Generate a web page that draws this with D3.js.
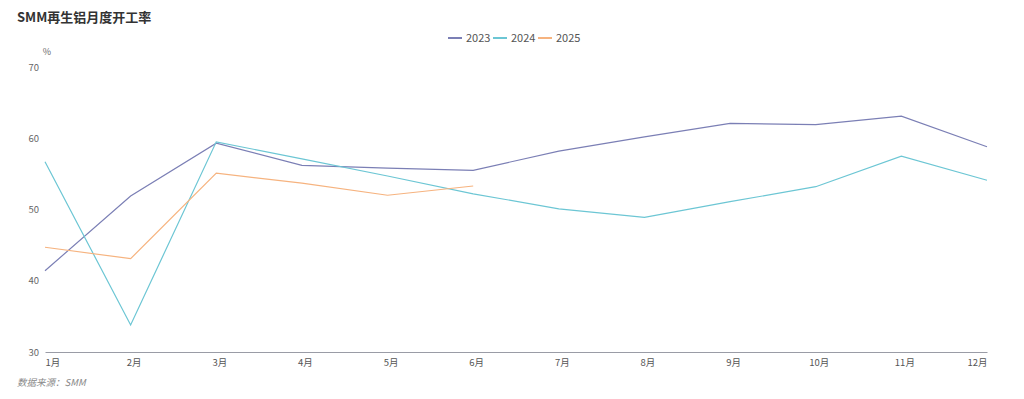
<!DOCTYPE html>
<html>
<head>
<meta charset="utf-8">
<script src="https://cdn.jsdelivr.net/npm/d3@7"></script>
<style>
  body { margin: 0; background: #fff; }
  svg text { font-family: "Noto Sans CJK SC", "Noto Sans", sans-serif; }
</style>
</head>
<body>
<svg id="chart"></svg>
<script>
// data
var months = ["1月", "2月", "3月", "4月", "5月", "6月", "7月", "8月", "9月", "10月", "11月", "12月"];
var yTicks = [30, 40, 50, 60, 70];
var seriesNames = ["2023", "2024", "2025"];
var v2023 = [41.4, 51.9, 59.3, 56.2, 55.8, 55.5, 58.2, 60.2, 62.1, 61.9, 63.1, 58.8];
var v2024 = [56.7, 33.8, 59.5, 57.1, 54.7, 52.2, 50.1, 48.9, 51.1, 53.2, 57.5, 54.1];
var v2025 = [44.7, 43.1, 55.1, 53.7, 52.0, 53.3];

var colors = ["#7b7fb5", "#6cc6d4", "#f6b37f"];
var series = [v2023, v2024, v2025];

var W = 1024, H = 399;
var margin = { top: 67, right: 37, bottom: 47, left: 45 };

var svg = d3.select("svg#chart").attr("width", W).attr("height", H);

var x = d3.scalePoint().domain(months).range([margin.left, W - margin.right]);
var y = d3.scaleLinear().domain([30, 70]).range([H - margin.bottom, margin.top]);

// title
svg.append("text")
  .attr("x", 17).attr("y", 22)
  .attr("font-size", 13).attr("font-weight", "bold")
  .attr("fill", "#333")
  .text("SMM再生铝月度开工率");

// legend
var legend = svg.append("g").attr("transform", "translate(448,38)");
var lx = 0;
seriesNames.forEach(function (name, i) {
  var g = legend.append("g").attr("transform", "translate(" + lx + ",0)");
  g.append("line").attr("x1", 0).attr("x2", 14).attr("y1", 0).attr("y2", 0)
    .attr("stroke", colors[i]).attr("stroke-width", 2);
  g.append("text").attr("x", 18).attr("y", 4)
    .attr("font-size", 11).attr("fill", "#555").text(name);
  lx += 45;
});

// y unit
svg.append("text")
  .attr("x", 47).attr("y", 55)
  .attr("font-size", 9).attr("fill", "#666").attr("text-anchor", "middle")
  .text("%");

// y axis labels
svg.append("g").selectAll("text").data(yTicks).enter().append("text")
  .attr("x", 39).attr("y", function (d) { return y(d) + 3.5; })
  .attr("text-anchor", "end")
  .attr("font-size", 9.5).attr("fill", "#666")
  .text(function (d) { return d; });

// x axis
var xAxis = d3.axisBottom(x).tickSize(0).tickPadding(7);
var gx = svg.append("g")
  .attr("transform", "translate(0," + y(30) + ")")
  .call(xAxis);
gx.select(".domain").attr("stroke", "#9a9ca6").attr("stroke-width", 1);
gx.selectAll("text")
  .attr("font-size", 9.5).attr("fill", "#555")
  .attr("font-family", "\"Noto Sans CJK SC\", sans-serif")
  .attr("text-anchor", function (d, i) {
    if (i === 0) return "start";
    if (i === months.length - 1) return "end";
    return "middle";
  })
  .attr("dx", function (d, i) { return (i > 0 && i < months.length - 1) ? 3 : 0; });

// lines
var line = d3.line()
  .x(function (d, i) { return x(months[i]); })
  .y(function (d) { return y(d); });

series.forEach(function (vals, i) {
  svg.append("path")
    .datum(vals)
    .attr("d", line)
    .attr("fill", "none")
    .attr("stroke", colors[i])
    .attr("stroke-width", 1.2);
});

// source
svg.append("text")
  .attr("x", 17).attr("y", 386)
  .attr("font-size", 9.5).attr("font-style", "italic")
  .attr("fill", "#888")
  .text("数据来源：SMM");
</script>
</body>
</html>
